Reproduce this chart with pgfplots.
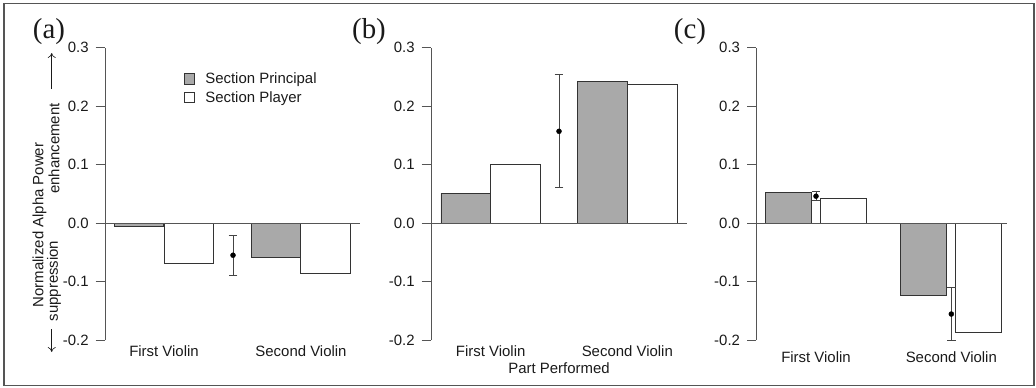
\documentclass[border=0pt]{standalone}
\usepackage{pgfplots}
\pgfplotsset{compat=1.18}
\usepackage{fontspec}
\setmainfont{Liberation Sans}
\newfontfamily\seriffont{Liberation Serif}
\usetikzlibrary{arrows.meta}
\definecolor{axisgray}{HTML}{555555}
\definecolor{bargray}{HTML}{A9A9A9}
\definecolor{edgegray}{HTML}{333333}
\definecolor{txt}{HTML}{1A1A1A}
\definecolor{errgray}{HTML}{444444}
\pgfplotsset{
  panel/.style={
    scale only axis, anchor=south west, clip=false,
    height=292.3bp,
    ymin=-0.2, ymax=0.3,
    ytick={-0.2,-0.1,0,0.1,0.2,0.3},
    yticklabels={-0.2,-0.1,0.0,0.1,0.2,0.3},
    axis lines=left,
    axis line style={-, draw=axisgray, line width=0.9bp},
    x axis line style={draw=none},
    tick align=outside,
    major tick length=9.3bp,
    ytick style={draw=axisgray, line width=0.9bp},
    xtick style={draw=none},
    tick label style={font=\fontsize{15}{18}\selectfont, text=txt},
    yticklabel style={xshift=-3.5bp},
    xticklabel style={yshift=7bp},
  },
  sq/.style={legend image code/.code={\draw[##1] (0bp,-5.2bp) rectangle (10.5bp,5.2bp); \path[draw=none,fill=none] (0bp,0bp) -- (19bp,0bp);}},
  pbar/.style={ybar, bar shift=0pt, fill=bargray, draw=edgegray, line width=0.8bp, sq},
  sbar/.style={ybar, bar shift=0pt, fill=white, draw=edgegray, line width=0.8bp, sq},
  errp/.style={only marks, mark=*, mark size=2.5bp, black, forget plot,
    error bars/.cd, y dir=both, y explicit,
    error bar style={draw=errgray, line width=0.8bp},
    error mark options={rotate=90, mark size=4.3bp, draw=errgray, line width=0.8bp}},
}
\begin{document}
\begin{tikzpicture}[x=1bp, y=1bp, font=\fontsize{15}{18}\selectfont, text=txt]
% panel (a)
\begin{axis}[panel, at={(105bp,47bp)}, width=255bp, xmin=105, xmax=360,
  xtick={164,301}, xticklabels={First Violin, Second Violin},
  legend style={draw=none, fill=none, at={(0.297,0.928)}, anchor=north west,
    font=\fontsize{15}{18}\selectfont, row sep=2bp},
  legend cell align=left]
\addplot[pbar, bar width=49.4] coordinates {(138.7,-0.005) (276.2,-0.059)};
\addlegendentry{Section Principal}
\addplot[sbar, bar width=49.4] coordinates {(188.7,-0.069) (325.5,-0.086)};
\addlegendentry{Section Player}
\addplot[errp] coordinates {(233,-0.055) +- (0,0.0345)};
\draw[axisgray, line width=0.9bp] (axis cs:105,0) -- (axis cs:360,0);
\end{axis}
% panel (b)
\begin{axis}[panel, at={(431bp,47bp)}, width=255.7bp, xmin=431, xmax=686.7,
  xtick={490.7,627.3}, xticklabels={First Violin, Second Violin}]
\addplot[pbar, bar width=49.8] coordinates {(465.8,0.051) (602.3,0.2415)};
\addplot[sbar, bar width=49.8] coordinates {(515.5,0.0997) (652.3,0.2365)};
\addplot[errp] coordinates {(559,0.157) +- (0,0.0965)};
\draw[axisgray, line width=0.9bp] (axis cs:431,0) -- (axis cs:686.7,0);
\end{axis}
% panel (c)
\begin{axis}[panel, at={(756.3bp,47bp)}, width=250.4bp, xmin=756.3, xmax=1006.7,
  xtick={816,951.3}, xticklabels={First Violin, Second Violin},
  xticklabel style={yshift=-6bp}]
\addplot[pbar, bar width=45.8] coordinates {(788.5,0.052) (923.5,-0.1236)};
\addplot[sbar, bar width=45.8] coordinates {(843.5,0.0416) (978.5,-0.1875)};
\addplot[errp] coordinates {(816,0.046) +- (0,0.0075) (951.3,-0.1556) +- (0,0.0455)};
\draw[axisgray, line width=0.9bp] (axis cs:756.3,0) -- (axis cs:1006.7,0);
\end{axis}
% labels
\node[rotate=90] at (39.5,162) {Normalized Alpha Power};
\node[rotate=90] at (54,238.5) {enhancement};
\node[rotate=90] at (54,106) {suppression};
\draw[txt, line width=0.6bp, -{To[length=5bp,width=8bp]}] (51.7,298) -- (51.7,334);
\draw[txt, line width=0.6bp, -{To[length=5bp,width=8bp]}] (51.7,58) -- (51.7,35);
\node at (559,19) {Part Performed};
\node[font=\seriffont\fontsize{29}{33}\selectfont] at (49,355.3) {(a)};
\node[font=\seriffont\fontsize{29}{33}\selectfont] at (369,355.3) {(b)};
\node[font=\seriffont\fontsize{29}{33}\selectfont] at (690,355.3) {(c)};
\draw[axisgray, line width=1.5bp] (4,383.7) rectangle (1034,1.3);
\pgfresetboundingbox
\path[use as bounding box] (0,0) rectangle (1036,387);
\end{tikzpicture}
\end{document}
